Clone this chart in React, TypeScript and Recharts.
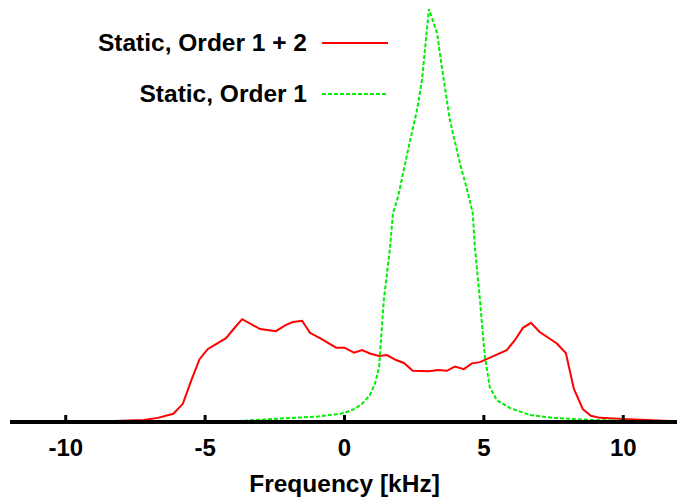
import React from "react";
import { LineChart, Line, XAxis, YAxis } from "recharts";

const fullX = [
  -12, -10, -8.5, -7.5, -7.2, -6.7, -6.14, -5.8, -5.5, -5.2, -4.9, -4.25, -3.92, -3.67, -3.03, -2.46,
  -2.1, -1.85, -1.52, -1.24, -0.88, -0.3, 0, 0.34, 0.63, 0.91, 1.24, 1.52, 1.85, 2.13, 2.45, 3.03,
  3.35, 3.67, 3.96, 4.28, 4.57, 4.86, 5.36, 5.82, 6.11, 6.4, 6.69, 7.0, 7.62, 7.94, 8.23, 8.55,
  8.84, 9.16, 10.0, 11.9,
];
const fullY = [
  0, 0.001, 0.002, 0.004, 0.005, 0.01, 0.02, 0.044, 0.1, 0.152, 0.177, 0.203, 0.23, 0.249, 0.225, 0.22,
  0.235, 0.242, 0.245, 0.216, 0.203, 0.18, 0.18, 0.168, 0.174, 0.166, 0.16, 0.162, 0.15, 0.143, 0.124, 0.123,
  0.126, 0.124, 0.134, 0.128, 0.142, 0.145, 0.16, 0.174, 0.198, 0.228, 0.24, 0.218, 0.19, 0.167, 0.08, 0.031,
  0.015, 0.01, 0.007, 0.002,
];

const firstX = [
  -12, -8, -6, -3.86, -2.42, -1.0, -0.16, 0, 0.34, 0.63, 0.91, 1.1, 1.24, 1.41, 1.63, 1.74, 1.92, 2.28,
  2.6, 2.78, 2.92, 3.03, 3.32, 3.49, 3.78, 4.14, 4.43, 4.6, 4.68, 4.86, 4.96, 5.04, 5.21, 5.46, 5.93,
  6.65, 7.5, 8.8, 10, 11.9,
];
const firstY = [
  0, 0.0, 0.001, 0.002, 0.008, 0.013, 0.02, 0.022, 0.031, 0.044, 0.065, 0.094, 0.133, 0.295, 0.42, 0.506,
  0.545, 0.659, 0.755, 0.828, 0.925, 1.0, 0.942, 0.86, 0.731, 0.627, 0.554, 0.506, 0.421, 0.295, 0.215,
  0.157, 0.085, 0.053, 0.034, 0.017, 0.01, 0.005, 0.003, 0.001,
];

const xTicks = [-10, -5, 0, 5, 10];

const fullData = fullX.map((x, i) => ({ x, y: fullY[i] }));
const firstData = firstX.map((x, i) => ({ x, y: firstY[i] }));

const FONT = "'Liberation Sans', Arial, Helvetica, sans-serif";

function Tick(props: any) {
  const { x, y, payload } = props;
  return (
    <g>
      <line x1={x} x2={x} y1={y} y2={y - 7} stroke="#000" strokeWidth={3} />
      <text
        x={x}
        y={y + 34}
        textAnchor="middle"
        fontFamily={FONT}
        fontWeight="bold"
        fontSize={24}
        fill="#000"
      >
        {payload.value}
      </text>
    </g>
  );
}

// legend drawn as an overlay so it doesn't eat into the plot area
function KeyBox() {
  const rows = [
    { name: "Static, Order 1 + 2", color: "#ff0000", dash: undefined, cy: 43 },
    { name: "Static, Order 1", color: "#00ee00", dash: "4 2", cy: 94 },
  ];
  return (
    <svg width={400} height={120} style={{ display: "block" }}>
      {rows.map((r) => (
        <g key={r.name}>
          <text
            x={307}
            y={r.cy + 8}
            textAnchor="end"
            fontFamily={FONT}
            fontWeight="bold"
            fontSize={24.5}
            fill="#000"
          >
            {r.name}
          </text>
          <line
            x1={322}
            x2={388}
            y1={r.cy}
            y2={r.cy}
            stroke={r.color}
            strokeWidth={2}
            strokeDasharray={r.dash}
          />
        </g>
      ))}
    </svg>
  );
}

export default function App() {
  return (
    <div
      style={{
        position: "fixed",
        top: 0,
        left: 0,
        width: 677,
        height: 498,
        overflow: "hidden",
        background: "#fff",
      }}
    >
      <LineChart
        width={690}
        height={498}
        margin={{ top: 9, right: 11, left: 10, bottom: 0 }}
      >
        <XAxis
          dataKey="x"
          type="number"
          domain={[-12, 12]}
          ticks={xTicks}
          allowDataOverflow
          height={76}
          axisLine={{ stroke: "#000", strokeWidth: 4 }}
          tickLine={false}
          tickSize={0}
          tickMargin={0}
          tick={<Tick />}
          label={{
            value: "Frequency [kHz]",
            position: "insideBottom",
            offset: 6,
            style: { fontFamily: FONT, fontWeight: "bold", fontSize: 24.5, fill: "#000" },
          }}
        />
        <YAxis type="number" domain={[0, 1]} hide allowDataOverflow />
        <Line
          data={fullData}
          dataKey="y"
          name="Static, Order 1 + 2"
          stroke="#ff0000"
          strokeWidth={2}
          dot={false}
          type="linear"
          isAnimationActive={false}
        />
        <Line
          data={firstData}
          dataKey="y"
          name="Static, Order 1"
          stroke="#00ee00"
          strokeWidth={2}
          strokeDasharray="4 2"
          dot={false}
          type="linear"
          isAnimationActive={false}
        />
      </LineChart>
      <div style={{ position: "absolute", top: 0, left: 0 }}>
        <KeyBox />
      </div>
    </div>
  );
}
